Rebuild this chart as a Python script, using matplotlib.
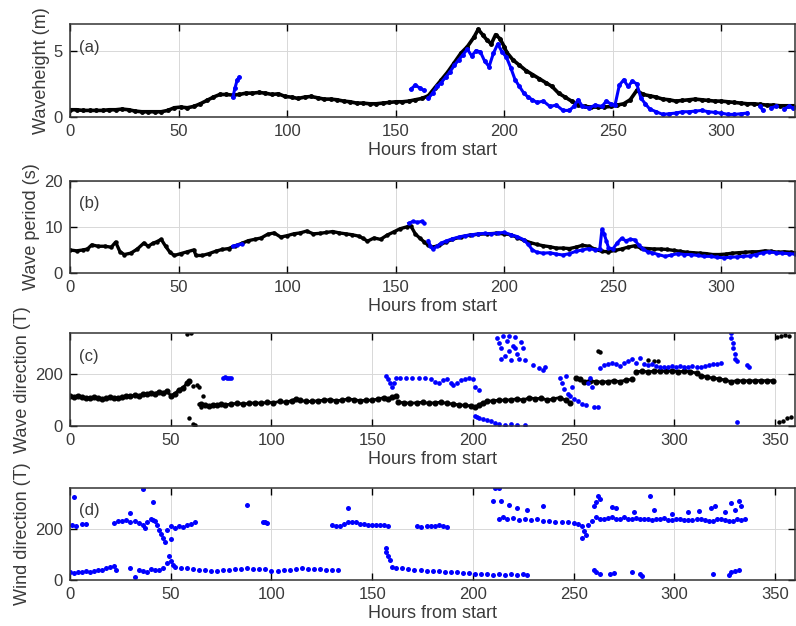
import numpy as np
import matplotlib.pyplot as plt

nan = np.nan
plt.rcParams['font.family'] = ['Liberation Sans', 'DejaVu Sans']

# (a) significant wave height, model (black) and buoy (blue)
hs_model_t = [0, 3, 6, 9, 12, 15, 18, 21, 24, 27, 30, 33, 36, 39, 42, 45, 48, 51, 54, 57,
              60, 63, 66, 69, 72, 75, 78, 81, 84, 87, 90, 93, 96, 99, 102, 105, 108, 111, 114, 117,
              120, 123, 126, 129, 132, 135, 138, 141, 144, 147, 150, 153, 156, 159, 162, 165, 168, 171, 174, 177,
              180, 183, 186, 188, 190, 192, 194, 196, 198, 200, 201, 204, 207, 210, 213, 216, 219, 222, 225, 228,
              231, 234, 237, 240, 243, 246, 249, 252, 255, 258, 261, 264, 267, 270, 273, 276, 279, 282, 285, 288,
              291, 294, 297, 300, 303, 306, 309, 312, 315, 318, 321, 324, 327, 330, 333]
hs_model = [0.55, 0.55, 0.5, 0.5, 0.5, 0.5, 0.55, 0.55, 0.6, 0.55, 0.45, 0.4, 0.4, 0.4, 0.4, 0.5, 0.7, 0.75, 0.7, 0.8,
            1.0, 1.25, 1.5, 1.7, 1.7, 1.65, 1.7, 1.8, 1.8, 1.85, 1.8, 1.7, 1.75, 1.55, 1.5, 1.4, 1.5, 1.55, 1.45, 1.35,
            1.35, 1.3, 1.2, 1.15, 1.05, 1.05, 1.0, 1.0, 1.05, 1.1, 1.15, 1.15, 1.2, 1.3, 1.4, 1.6, 2.2, 2.8, 3.4, 4.1,
            4.8, 5.3, 6.0, 6.6, 6.2, 5.8, 5.5, 6.2, 5.9, 5.3, 4.9, 4.3, 3.9, 3.5, 3.2, 2.9, 2.6, 2.3, 1.8, 1.5,
            1.2, 0.9, 0.8, 0.75, 0.75, 0.75, 0.8, 0.9, 1.0, 1.3, 2.0, 1.7, 1.6, 1.5, 1.35, 1.3, 1.2, 1.25, 1.3, 1.35,
            1.3, 1.25, 1.2, 1.2, 1.15, 1.1, 1.05, 1.0, 1.0, 0.95, 0.9, 0.9, 0.85, 0.85, 0.85]

hs_buoy_t = [75, 76, 77, 78, 79, 157, 159, 161, 163, 164, 165, 167, 169, 171, 173, 175, 177, 179, 181, 183,
             185, 187, 189, 191, 193, 195, 197, 199, 201, 203, 205, 207, 209, 211, 213, 215, 218, 221, 224, 227,
             230, 232, 234, 236, 239, 242, 245, 247, 249, 251, 253, 255, 257, 259, 261, 263, 265, 267, 270, 273,
             276, 279, 282, 285, 288, 291, 294, 297, 300, 303, 306, 309, 312, 313, 318, 319, 320, 323, 325, 326,
             329, 331, 333]
hs_buoy = [1.5, 2.2, 2.8, 3.0, nan, 2.1, 2.4, 2.2, 2.0, nan, 1.4, 1.8, 2.3, 2.6, 3.0, 3.4, 3.9, 4.3, 4.7, 5.1,
           4.6, 5.0, 4.9, 4.2, 3.8, 4.8, 5.5, 4.9, 4.5, 3.7, 2.8, 2.3, 1.8, 1.5, 1.3, 1.1, 1.2, 0.8, 0.9, 0.5,
           0.5, 0.8, 1.3, 0.8, 0.7, 0.9, 0.8, 1.2, 1.0, 0.9, 2.4, 2.8, 2.3, 2.7, 2.5, 1.4, 1.0, 0.6, 0.4, 0.2,
           0.25, 0.3, 0.4, 0.4, 0.45, 0.5, 0.4, 0.35, 0.3, 0.2, 0.2, 0.25, 0.3, nan, 0.8, 0.5, nan, 0.7, 0.8, nan,
           0.6, 0.8, 0.7]

# (b) wave period
tp_model_t = [0, 3, 6, 8, 10, 13, 16, 19, 21, 23, 25, 28, 31, 34, 36, 38, 40, 42, 44, 46,
              48, 51, 54, 57, 58, 61, 64, 67, 70, 73, 76, 79, 82, 85, 88, 91, 94, 97, 100, 103,
              106, 109, 112, 115, 118, 121, 124, 127, 130, 133, 135, 137, 140, 143, 146, 149, 152, 155, 157, 159,
              161, 163, 165, 167, 170, 173, 176, 180, 184, 188, 192, 196, 200, 203, 206, 209, 212, 215, 218, 221,
              224, 227, 230, 233, 236, 239, 242, 245, 248, 251, 254, 257, 260, 263, 266, 269, 272, 275, 278, 281,
              284, 287, 290, 293, 296, 299, 302, 305, 308, 311, 314, 317, 320, 323, 326, 329, 332, 334]
tp_model = [5.0, 4.8, 5.0, 5.2, 6.1, 5.8, 5.8, 5.6, 6.7, 4.6, 4.0, 4.3, 5.2, 6.5, 5.8, 6.4, 6.8, 7.3, 5.8, 4.5,
            3.8, 4.2, 4.6, 5.0, 3.8, 3.8, 4.2, 4.7, 5.1, 5.3, 5.9, 6.4, 7.0, 7.3, 7.6, 8.4, 8.7, 7.8, 8.1, 8.5,
            8.7, 9.1, 8.5, 8.6, 8.8, 9.0, 8.7, 8.5, 8.3, 8.0, 7.5, 6.9, 7.6, 7.3, 8.2, 8.9, 9.6, 10.0, 10.2, 8.5,
            7.6, 6.8, 6.0, 5.6, 6.0, 6.7, 7.3, 7.8, 8.2, 8.4, 8.5, 8.6, 8.5, 8.3, 7.7, 7.1, 6.6, 6.2, 5.9, 5.7,
            5.4, 5.4, 5.3, 5.6, 6.0, 5.8, 5.1, 4.7, 4.6, 4.9, 5.2, 5.6, 5.9, 5.4, 5.3, 5.2, 5.2, 5.1, 4.9, 4.7,
            4.5, 4.4, 4.3, 4.2, 4.0, 4.0, 4.1, 4.3, 4.4, 4.5, 4.6, 4.6, 4.8, 4.7, 4.5, 4.6, 4.5, 4.4]

tp_buoy_t = [75, 77, 79, 80, 156, 158, 160, 162, 163, 164, 165, 166, 167, 169, 171, 173, 176, 179, 182, 185,
             188, 191, 194, 197, 200, 203, 206, 209, 211, 213, 215, 218, 221, 224, 227, 230, 233, 236, 239, 242,
             244, 245, 246, 247, 248, 250, 252, 254, 256, 258, 260, 262, 264, 266, 268, 271, 274, 277, 280, 283,
             286, 289, 292, 295, 298, 301, 304, 307, 310, 313, 316, 319, 322, 325, 328, 331, 334]
tp_buoy = [5.8, 6.0, 6.3, nan, 10.8, 11.2, 11.0, 11.2, 10.8, nan, 7.0, 5.8, 5.2, 5.8, 6.5, 6.9, 7.4, 7.8, 8.1, 8.3,
           8.5, 8.6, 8.5, 8.7, 8.8, 8.3, 7.9, 7.2, 6.2, 5.0, 4.5, 4.3, 4.4, 4.1, 3.9, 4.2, 4.7, 5.0, 5.3, 5.0,
           5.2, 9.5, 8.5, 7.0, 5.5, 5.2, 6.5, 7.5, 7.0, 7.3, 7.2, 6.0, 5.2, 4.6, 4.4, 4.0, 3.6, 3.9, 4.2, 4.0,
           4.0, 3.8, 3.6, 3.6, 3.4, 3.3, 3.4, 3.5, 3.6, 3.7, 4.0, 4.4, 4.6, 4.4, 4.3, 4.2, 4.1]

# (c) wave direction, model segments separated by gaps
dir_model_t = [0, 2, 4, 6, 8, 10, 12, 14, 16, 18, 20, 22, 24, 26, 28, 30, 32, 34, 36, 38,
               40, 42, 44, 46, 48, 50, 52, 54, 56, 58, 59, 60,
               65, 67, 69, 71, 73, 75, 77, 80, 83, 86, 89, 92, 95, 98, 101, 104, 107, 110,
               112, 114, 117, 120, 123, 126, 129, 132, 135, 138, 141, 144, 147, 150, 153, 156, 158, 160, 162, 162.5,
               163, 166, 169, 172, 175, 178, 181, 184, 187, 190, 193, 196, 199, 201, 203, 205, 207, 210, 213, 216,
               219, 222, 225, 228, 231, 234, 237, 240, 243, 246, 248, 249,
               251, 253, 255, 258, 261, 264, 267, 270, 273, 276, 279, 280,
               281, 284, 287, 290, 293, 296, 299, 302, 305, 308, 311, 313, 316, 319, 322, 325, 328, 331, 334, 337,
               340, 343, 346, 349]
dir_model = [115, 113, 118, 112, 110, 108, 112, 110, 105, 108, 112, 110, 108, 112, 118, 115, 120, 118, 122, 125,
             128, 125, 132, 128, 135, 118, 125, 140, 148, 165, 175, nan,
             85, 80, 78, 82, 80, 85, 82, 85, 88, 85, 88, 90, 88, 92, 90, 95, 92, 98,
             105, 100, 95, 95, 98, 100, 102, 98, 100, 105, 102, 98, 100, 100, 105, 110, 105, 112, 115, nan,
             92, 90, 88, 90, 92, 88, 90, 92, 88, 85, 82, 80, 78, 72, 82, 90, 95, 98, 100, 100,
             102, 105, 100, 110, 105, 108, 100, 105, 110, 100, 90, nan,
             185, 180, 172, 175, 172, 170, 172, 175, 172, 178, 180, nan,
             210, 212, 210, 212, 213, 212, 213, 210, 212, 210, 205, 195, 190, 185, 183, 178, 172, 175, 175, 175,
             175, 176, 175, 176]
dir_model_x_t = [58, 60, 61, 63, 64, 66, 59, 61, 62, 64, 65, 262, 263, 287, 290, 292,
                 351, 353, 355, 357, 352, 354, 356, 358]
dir_model_x = [357, 358, 155, 160, 150, 118, 30, 8, 5, 85, 75, 290, 285, 255, 250, 250,
               345, 350, 352, 348, 15, 20, 30, 35]

dir_buoy_t = [76, 77, 78, 79, 80,
              157, 158, 159, 160, 161, 162, 164, 167, 170, 173, 176, 179, 181, 183, 185,
              187, 189, 190, 192, 194, 196, 198, 200, 201, 203,
              201, 202, 203, 205, 207, 209, 211, 213, 216, 219, 222, 226,
              212, 213, 214, 215, 216, 217, 218, 219, 220, 221, 222, 223, 224, 225, 226, 214, 218, 221,
              230, 233, 235, 236,
              243, 244, 245, 246, 247, 248, 249, 250, 252, 254, 256, 257, 258, 259, 260, 262,
              263, 265, 267, 269, 271, 273, 275, 277, 279, 281, 283, 285, 287, 289, 291, 293, 295, 297, 299, 301,
              303, 305, 307, 309, 311, 313, 315, 317, 319, 321, 323,
              328, 328, 329, 329, 330, 330, 331, 331, 336, 337]
dir_buoy = [185, 188, 185, 187, 186,
            195, 180, 165, 150, 165, 185, 185, 186, 185, 187, 184, 180, 172, 168, 178,
            182, 165, 158, 168, 178, 183, 184, 180, 150, 140,
            40, 35, 30, 28, 24, 18, 12, 6, 4, 8, 2, 4,
            340, 320, 300, 350, 270, 330, 290, 255, 310, 345, 280, 260, 325, 300, 255, 260, 350, 300,
            235, 225, 218, 230,
            185, 165, 145, 195, 125, 115, 150, 105, 95, 85, 80, 165, 185, 150, 75, 72,
            225, 235, 240, 245, 238, 232, 245, 250, 258, 245, 262, 240, 235, 238, 232, 228, 230, 228, 232, 230,
            232, 229, 230, 232, 230, 228, 232, 236, 240, 238, 242,
            360, 340, 320, 300, 280, 260, 250, 15, 235, 230]

# (d) wind direction
wind_t = [0, 2, 4, 6, 8, 10, 12, 14, 16, 18, 20, 22, 23,
          2, 1, 3, 6, 8,
          22, 24, 26, 28, 30, 32, 34, 36, 37, 38, 40, 41, 42, 43, 44, 45, 46, 47, 48, 50,
          52, 54, 56, 58, 60, 62,
          30, 36, 41, 50, 88, 96, 97, 98,
          30, 32, 34, 36, 38, 40, 42, 44, 46, 48, 49, 50, 51,
          52, 55, 58, 61, 64, 67, 70, 73, 76, 79, 82, 85, 88, 91, 94, 97, 100, 103, 106, 109,
          112, 115, 118, 121, 124, 127, 130, 133,
          130, 132, 134, 136, 138, 140, 142, 144, 146, 148, 150, 152, 154, 156, 158, 138,
          172, 174, 177, 179, 181, 183, 185, 187,
          157, 157, 158, 159, 160, 162, 165, 168, 171, 174, 177, 180, 183, 186, 189, 192, 195, 198, 201, 204,
          207, 210, 213, 216, 219, 222, 225, 227,
          213, 215, 217, 220, 223, 226, 229, 232, 235, 238, 241, 244, 247, 250, 252, 254, 255, 256, 257, 259,
          261, 263, 265, 267, 269, 271, 273, 275, 277, 279, 281, 283, 285, 287, 289, 291, 293, 295, 297, 299,
          301, 303, 305, 307, 309, 311, 313, 315, 317, 319, 321, 323, 325, 327, 329, 331, 333, 335,
          211, 213, 210, 214, 218, 222, 227, 235, 254, 260, 261, 262, 263, 269, 271, 280, 288, 290, 299, 307,
          312, 318, 320, 325, 328, 330, 332, 333,
          260, 261, 263, 268, 270, 279, 283, 284, 319, 327, 328, 330, 332]
wind_dir = [30, 28, 32, 30, 35, 33, 36, 38, 40, 45, 50, 55, 40,
            325, 215, 212, 220, 218,
            222, 230, 232, 235, 228, 232, 222, 215, 205, 225, 240, 235, 230, 215, 195, 180, 165, 150, 195, 210,
            205, 210, 208, 215, 220, 225,
            262, 355, 305, 160, 292, 225, 228, 224,
            45, 12, 40, 35, 30, 42, 38, 40, 48, 65, 95, 75, 58,
            50, 48, 45, 42, 40, 38, 35, 34, 38, 40, 42, 44, 45, 44, 43, 42, 35, 36, 38, 40,
            44, 45, 44, 43, 42, 40, 38, 40,
            215, 212, 210, 218, 225, 228, 225, 220, 218, 216, 215, 214, 216, 215, 212, 282,
            210, 208, 212, 212, 210, 214, 210, 207,
            125, 110, 95, 80, 50, 45, 45, 42, 40, 38, 36, 36, 34, 33, 32, 30, 28, 26, 25, 24,
            22, 20, 25, 20, 22, 20, 22, 20,
            240, 245, 238, 242, 236, 240, 235, 238, 232, 230, 228, 228, 225, 222, 220, 210, 190, 175, 215, 232,
            245, 240, 238, 242, 245, 238, 240, 245, 240, 238, 242, 240, 238, 240, 236, 240, 238, 242, 236, 235,
            238, 240, 236, 234, 236, 238, 240, 235, 230, 232, 238, 240, 235, 230, 232, 238, 236, 238,
            358, 358, 308, 308, 295, 280, 275, 290, 165, 290, 305, 330, 315, 285, 280, 265, 330, 275, 260, 265,
            270, 280, 290, 265, 300, 275, 310, 290,
            40, 30, 25, 25, 28, 30, 25, 15, 25, 20, 30, 35, 38]

panel_tags = ['(a)', '(b)', '(c)', '(d)']
ylabels = ['Waveheight (m)', 'Wave period (s)', 'Wave direction (T)', 'Wind direction (T)']

fig = plt.figure(figsize=(7.96, 6.26), dpi=100)
rects = [[0.088, 0.813, 0.911, 0.1486],
         [0.088, 0.564, 0.911, 0.147],
         [0.088, 0.3195, 0.911, 0.1486],
         [0.088, 0.0735, 0.911, 0.147]]
axes = [fig.add_axes(r) for r in rects]

ax = axes[0]
ax.plot(hs_model_t, hs_model, '-', color='black', lw=2.6, marker='o', ms=2.5)
ax.plot(hs_buoy_t, hs_buoy, '-', color='blue', lw=2.2, marker='o', ms=2.5)
ax.set_xlim(0, 334)
ax.set_ylim(0, 7)
ax.set_yticks([0, 5])
ax.set_xticks(np.arange(0, 301, 50))

ax = axes[1]
ax.plot(tp_model_t, tp_model, '-', color='black', lw=2.4, marker='o', ms=2.2)
ax.plot(tp_buoy_t, tp_buoy, '-', color='blue', lw=2.2, marker='o', ms=2.2)
ax.set_xlim(0, 334)
ax.set_ylim(0, 20)
ax.set_yticks([0, 10, 20])
ax.set_xticks(np.arange(0, 301, 50))

ax = axes[2]
ax.plot(dir_model_t, dir_model, '-', color='black', lw=2.0, marker='o', ms=3.4)
ax.plot(dir_model_x_t, dir_model_x, 'o', color='black', ms=3.2, mew=0)
ax.plot(dir_buoy_t, dir_buoy, 'o', color='blue', ms=3.4, mew=0)
ax.set_xlim(0, 360)
ax.set_ylim(0, 360)
ax.set_yticks([0, 200])
ax.set_xticks(np.arange(0, 351, 50))

ax = axes[3]
ax.plot(wind_t, wind_dir, 'o', color='blue', ms=3.6, mew=0)
ax.set_xlim(0, 360)
ax.set_ylim(0, 360)
ax.set_yticks([0, 200])
ax.set_xticks(np.arange(0, 351, 50))

for ax, tag, yl in zip(axes, panel_tags, ylabels):
    ax.grid(True, color='#d8d8d8', lw=0.7)
    ax.set_axisbelow(True)
    ax.tick_params(direction='in', top=True, right=True, length=5, width=1,
                   labelsize=12, labelcolor='#3a3a3a', pad=5)
    for s in ax.spines.values():
        s.set_linewidth(1.1)
        s.set_color('#333333')
    ax.set_xlabel('Hours from start', fontsize=13, color='#3a3a3a', labelpad=2)
    ax.set_ylabel(yl, fontsize=13, color='#3a3a3a', labelpad=3)
    ax.text(0.013, 0.75, tag, transform=ax.transAxes, fontsize=12,
            color='#3a3a3a', va='center', ha='left')

fig.savefig('out.png', dpi=100)
